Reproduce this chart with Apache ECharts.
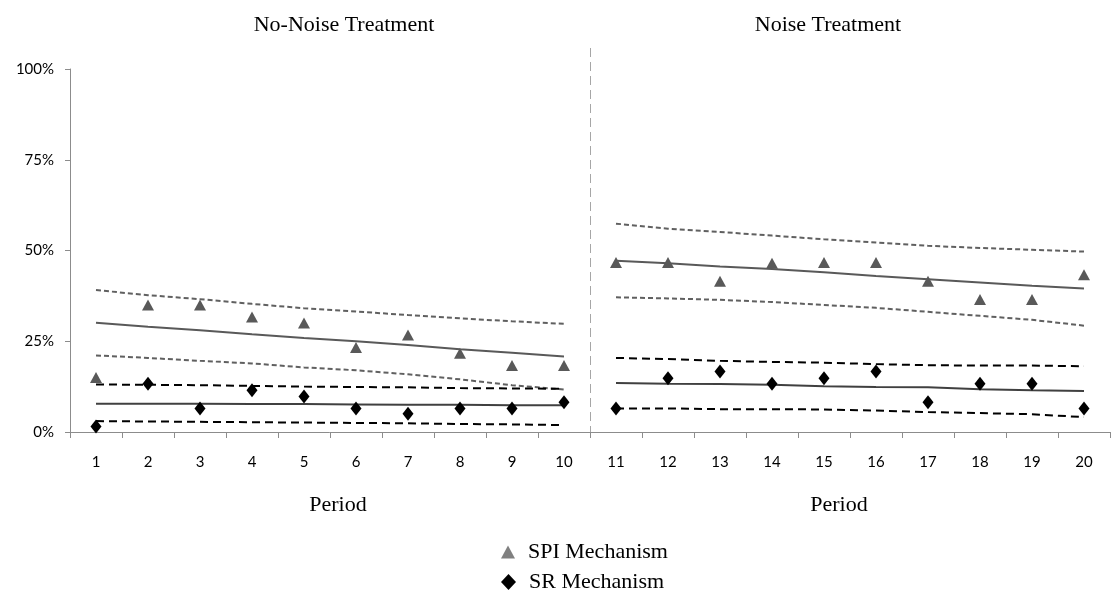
<!DOCTYPE html>
<html>
<head>
<meta charset="utf-8">
<script src="https://cdn.jsdelivr.net/npm/echarts@6/dist/echarts.min.js"></script>
<style>
html,body{margin:0;padding:0;background:#fff;}
#chart{width:1112px;height:592px;}
</style>
</head>
<body>
<div id="chart"></div>
<script>
// ---- data (percent) ----
var periods = ['1','2','3','4','5','6','7','8','9','10','11','12','13','14','15','16','17','18','19','20'];
var panelTitles = ['No-Noise Treatment', 'Noise Treatment'];
var yTicks = [0, 25, 50, 75, 100];

var spiObs   = [15.0, 35.0, 35.0, 31.7, 30.0, 23.3, 26.7, 21.7, 18.3, 18.3, 46.7, 46.7, 41.5, 46.5, 46.7, 46.7, 41.5, 36.5, 36.5, 43.3];
var srObs    = [1.5, 13.3, 6.5, 11.5, 9.8, 6.5, 5.0, 6.5, 6.5, 8.2, 6.5, 14.8, 16.7, 13.3, 14.8, 16.7, 8.2, 13.3, 13.3, 6.5];

var spiFit   = [30.1, 29.0, 28.0, 26.9, 25.9, 25.0, 24.0, 22.8, 21.8, 20.8, 47.2, 46.5, 45.6, 44.9, 44.0, 43.0, 42.1, 41.2, 40.3, 39.5];
var spiUpper = [39.1, 37.7, 36.6, 35.3, 34.1, 33.2, 32.2, 31.3, 30.5, 29.8, 57.4, 56.0, 55.1, 54.1, 53.1, 52.2, 51.3, 50.7, 50.2, 49.7];
var spiLower = [21.1, 20.4, 19.6, 18.9, 17.8, 17.0, 15.9, 14.5, 12.9, 11.7, 37.1, 36.8, 36.4, 35.8, 35.0, 34.2, 33.1, 32.0, 30.9, 29.3];
var srFit    = [7.8, 7.8, 7.8, 7.7, 7.7, 7.6, 7.5, 7.5, 7.4, 7.4, 13.5, 13.3, 13.2, 13.0, 12.6, 12.4, 12.3, 11.8, 11.5, 11.3];
var srUpper  = [13.1, 13.0, 12.9, 12.7, 12.5, 12.4, 12.3, 12.1, 12.0, 11.9, 20.4, 20.1, 19.6, 19.3, 19.1, 18.7, 18.4, 18.3, 18.3, 18.1];
var srLower  = [3.0, 2.9, 2.8, 2.7, 2.6, 2.5, 2.4, 2.2, 2.1, 1.9, 6.5, 6.5, 6.3, 6.3, 6.2, 5.9, 5.5, 5.2, 4.9, 4.1];

var serifFont = '"Liberation Serif", "DejaVu Serif", serif';
var sansFont = 'Lato, "Open Sans", sans-serif';

function half(arr, which) {
  return arr.map(function (v, i) {
    var inLeft = i < 10;
    return (which === 0 ? inLeft : !inLeft) ? v : null;
  });
}

var trendDefs = [
  {data: spiUpper, color: '#606060', type: [5, 3], width: 2},
  {data: spiLower, color: '#606060', type: [5, 3], width: 2},
  {data: spiFit,   color: '#595959', type: 'solid', width: 2},
  {data: srUpper,  color: '#000000', type: [8, 5], width: 2},
  {data: srLower,  color: '#000000', type: [8, 5], width: 2},
  {data: srFit,    color: '#404040', type: 'solid', width: 2}
];

var series = [];
trendDefs.forEach(function (d) {
  [0, 1].forEach(function (w) {
    series.push({
      type: 'line',
      data: half(d.data, w),
      symbol: 'none',
      silent: true,
      connectNulls: false,
      lineStyle: {color: d.color, type: d.type, width: d.width},
      z: 2
    });
  });
});
series.push({
  name: 'SPI Mechanism', type: 'scatter', data: spiObs,
  symbol: 'triangle', symbolSize: [12, 11],
  itemStyle: {color: '#595959', opacity: 1}, z: 5
});
series.push({
  name: 'SR Mechanism', type: 'scatter', data: srObs,
  symbol: 'diamond', symbolSize: [11, 14],
  itemStyle: {color: '#000000', opacity: 1}, z: 5
});

var serifText = {fontFamily: serifFont, fontSize: 22, fontWeight: 'normal', color: '#000'};

var chart = echarts.init(document.getElementById('chart'), null, {renderer: 'canvas'});
chart.setOption({
  animation: false,
  backgroundColor: '#ffffff',
  title: [
    {text: panelTitles[0], left: 339, top: 9, textAlign: 'center', textStyle: serifText},
    {text: panelTitles[1], left: 823, top: 9, textAlign: 'center', textStyle: serifText},
    {text: 'Period', left: 333, top: 489, textAlign: 'center', textStyle: serifText},
    {text: 'Period', left: 834, top: 489, textAlign: 'center', textStyle: serifText}
  ],
  legend: [
    {
      left: 496, top: 536,
      itemWidth: 14, itemHeight: 13,
      textStyle: {fontFamily: serifFont, fontSize: 22, color: '#000', padding: [0, 0, 0, 8]},
      data: [{name: 'SPI Mechanism', icon: 'triangle', itemStyle: {color: '#808080'}}]
    },
    {
      left: 496, top: 566,
      itemWidth: 15, itemHeight: 16,
      textStyle: {fontFamily: serifFont, fontSize: 22, color: '#000', padding: [0, 0, 0, 8]},
      data: [{name: 'SR Mechanism', icon: 'diamond', itemStyle: {color: '#000000'}}]
    }
  ],
  grid: {left: 70, right: 2, top: 69, bottom: 160, containLabel: false},
  xAxis: {
    type: 'category',
    data: periods,
    boundaryGap: true,
    axisLine: {lineStyle: {color: '#8c8c8c', width: 1}},
    axisTick: {show: true, alignWithLabel: false, length: 6, lineStyle: {color: '#8c8c8c'}},
    axisLabel: {fontFamily: sansFont, fontSize: 15, color: '#000', margin: 23, interval: 0},
    splitLine: {show: false}
  },
  yAxis: {
    type: 'value',
    min: yTicks[0], max: yTicks[yTicks.length - 1], interval: 25,
    axisLine: {show: true, lineStyle: {color: '#8c8c8c', width: 1}},
    axisTick: {show: true, length: 5, lineStyle: {color: '#8c8c8c'}},
    axisLabel: {fontFamily: sansFont, fontSize: 15, color: '#000', margin: 16,
      formatter: function (v) { return v + '%'; }},
    splitLine: {show: false}
  },
  series: series
});

// divider between the two treatments (between period 10 and 11)
var x10 = chart.convertToPixel({xAxisIndex: 0}, 9);
var x11 = chart.convertToPixel({xAxisIndex: 0}, 10);
var xd = Math.round((x10 + x11) / 2) + 0.5;
var yBottom = chart.convertToPixel({yAxisIndex: 0}, 0);
chart.setOption({
  graphic: [{
    type: 'line', silent: true, z: 1,
    shape: {x1: xd, y1: 48, x2: xd, y2: yBottom},
    style: {stroke: '#a6a6a6', lineWidth: 1, lineDash: [9, 5]}
  }]
});
</script>
</body>
</html>
